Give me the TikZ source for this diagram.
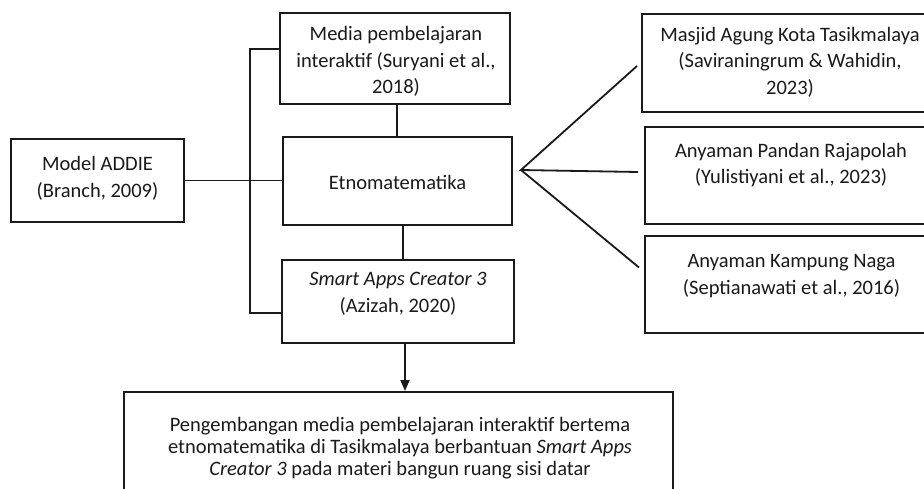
\documentclass[tikz,border=0pt]{standalone}
\usepackage{fontspec}
\setmainfont{Carlito}
\usetikzlibrary{arrows.meta,calc}
\definecolor{ink}{HTML}{1A1A1A}
\tikzset{
  box/.style={draw=ink, line width=2pt, rectangle, inner sep=0pt},
  txt/.style={align=center, text=ink, inner sep=0pt, font=\fontsize{20.5}{26.7}\selectfont},
  txtb/.style={align=center, text=ink, inner sep=0pt, font=\fontsize{20.5}{22}\selectfont},
  conn/.style={draw=ink, line width=1.8pt},
}
\begin{document}
\begin{tikzpicture}[x=1pt,y=-1pt]
\useasboundingbox (0,0) rectangle (924,488);
\clip (0,0) rectangle (924,488);
\fill[white] (0,0) rectangle (924,488);

% boxes
\node[box, minimum width=173pt, minimum height=83pt] (addie) at (97.5,180.5) {};
\node[txt] at (97.5,178) {Model ADDIE\\(Branch, 2009)};

\node[box, minimum width=230pt, minimum height=91pt] (media) at (395,58.5) {};
\node[txt] at (396,61.5) {Media pembelajaran\\interaktif (Suryani et al.,\\2018)};

\node[box, minimum width=229pt, minimum height=88pt] (etno) at (397.5,181) {};
\node[txt] at (397.5,182) {Etnomatematika};

\node[box, minimum width=232pt, minimum height=83pt] (sac) at (398,301.5) {};
\node[txt] at (398,294) {\textit{Smart Apps Creator 3}\\(Azizah, 2020)};

\node[box, minimum width=296pt, minimum height=98pt] (masjid) at (790,63) {};
\node[txt] at (790,62) {Masjid Agung Kota Tasikmalaya\\(Saviraningrum \& Wahidin,\\2023)};

\node[box, minimum width=293pt, minimum height=97pt] (pandan) at (791.5,175.5) {};
\node[txt] at (791,165) {Anyaman Pandan Rajapolah\\(Yulistiyani et al., 2023)};

\node[box, minimum width=293pt, minimum height=97pt] (naga) at (791.5,284.5) {};
\node[txt] at (791.5,276) {Anyaman Kampung Naga\\(Septianawati et al., 2016)};

\node[box, minimum width=549pt, minimum height=116pt] (hasil) at (398.5,450) {};
\node[txtb] at (400,448) {Pengembangan media pembelajaran interaktif bertema\\etnomatematika di Tasikmalaya berbantuan \textit{Smart Apps}\\\textit{Creator 3} pada materi bangun ruang sisi datar};

% connectors
\coordinate (lt) at (250,49);
\coordinate (lb) at (250,313);
\coordinate (fan) at (521,170);

\draw[conn] (addie.east) -- (addie.east -| etno.west);
\draw[conn] (media.west |- lt) -- (lt) -- (lb) -- (sac.west |- lb);
\draw[conn] ([xshift=2pt]media.south) -- ([xshift=2pt]media.south |- etno.north);
\draw[conn] ([xshift=5.5pt]etno.south) -- ([xshift=5.5pt]etno.south |- sac.north);
\draw[conn, -{Triangle[length=11pt,width=9pt]}] ([xshift=7pt]sac.south) -- ([xshift=7pt]sac.south |- hasil.north);

\draw[conn] ([xshift=-4pt,yshift=-3pt]masjid.west) -- (fan) -- ([xshift=-6pt,yshift=3.5pt]pandan.west);
\draw[conn] (fan) -- ([xshift=-5pt,yshift=17pt]naga.west);
\end{tikzpicture}
\end{document}
